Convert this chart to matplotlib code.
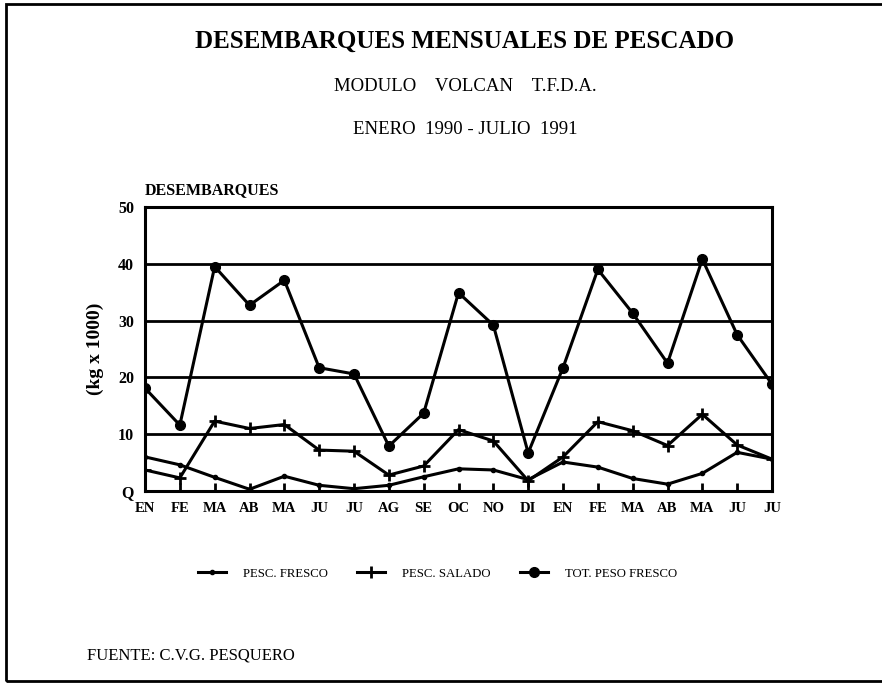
import matplotlib.pyplot as plt
from matplotlib.patches import Rectangle

plt.rcParams['font.family'] = ['Liberation Serif', 'DejaVu Serif']

# data (kg x 1000), ene 1990 - jul 1991
meses = ['EN', 'FE', 'MA', 'AB', 'MA', 'JU', 'JU', 'AG', 'SE', 'OC', 'NO', 'DI',
         'EN', 'FE', 'MA', 'AB', 'MA', 'JU', 'JU']
pesc_fresco = [6.0, 4.6, 2.4, 0.3, 2.6, 1.0, 0.4, 1.0, 2.5, 3.9, 3.7, 2.0,
               5.1, 4.2, 2.2, 1.2, 3.1, 6.8, 5.6]
pesc_salado = [3.7, 2.3, 12.3, 11.0, 11.7, 7.2, 7.0, 2.8, 4.4, 10.8, 8.8, 1.8,
               6.0, 12.2, 10.6, 8.0, 13.5, 8.1, 5.6]
tot_peso_fresco = [18.1, 11.6, 39.5, 32.7, 37.1, 21.7, 20.6, 7.9, 13.7, 34.9, 29.2, 6.7,
                   21.7, 39.0, 31.3, 22.5, 40.8, 27.5, 18.8]
y_ticks = [0, 10, 20, 30, 40, 50]
y_labels = ['Q', '10', '20', '30', '40', '50']

fig = plt.figure(figsize=(8.82, 6.84), dpi=100)
ax = fig.add_axes([0.1644, 0.2822, 0.7109, 0.4152])

x = list(range(len(meses)))
for yv in [10, 20, 30, 40]:
    ax.axhline(yv, color='black', lw=2.0, zorder=1)

l1, = ax.plot(x, pesc_fresco, color='black', lw=2.2, marker='o', ms=3, zorder=3)
l2, = ax.plot(x, pesc_salado, color='black', lw=2.2, marker='+', ms=8, mew=2, zorder=3)
l3, = ax.plot(x, tot_peso_fresco, color='black', lw=2.2, marker='o', ms=7, zorder=3)

ax.set_xlim(0, len(meses) - 1)
ax.set_ylim(0, 50)
ax.set_xticks(x)
ax.set_xticklabels(meses, fontsize=10.5, fontweight='bold')
ax.set_yticks(y_ticks)
ax.set_yticklabels(y_labels, fontsize=11.5, fontweight='bold')
ax.tick_params(axis='x', direction='in', length=6, width=2, pad=8)
ax.tick_params(axis='y', length=0, pad=8)
for s in ax.spines.values():
    s.set_linewidth(2.2)

ax.set_ylabel('(kg x 1000)', fontsize=14, fontweight='bold', labelpad=10)
ax.text(0, 51.6, 'DESEMBARQUES', fontsize=11.5, fontweight='bold', ha='left', va='bottom')

fig.text(0.527, 0.94, 'DESEMBARQUES MENSUALES DE PESCADO', fontsize=18,
         fontweight='bold', ha='center', va='center')
fig.text(0.527, 0.873, 'MODULO    VOLCAN    T.F.D.A.', fontsize=13.5, ha='center', va='center')
fig.text(0.527, 0.81, 'ENERO  1990 - JULIO  1991', fontsize=13.5, ha='center', va='center')

fig.legend([l1, l2, l3], ['PESC. FRESCO', 'PESC. SALADO', 'TOT. PESO FRESCO'],
           loc='center', bbox_to_anchor=(0.496, 0.161), ncol=3, frameon=False,
           fontsize=9.2, handlelength=2.2, columnspacing=2.3, handletextpad=1.3)

fig.text(0.099, 0.042, 'FUENTE: C.V.G. PESQUERO', fontsize=12, ha='left', va='center')

fig.patches.append(Rectangle((0.007, 0.004), 1.1, 0.99, transform=fig.transFigure,
                             fill=False, lw=2, color='black'))

fig.savefig('out.png', dpi=100)
